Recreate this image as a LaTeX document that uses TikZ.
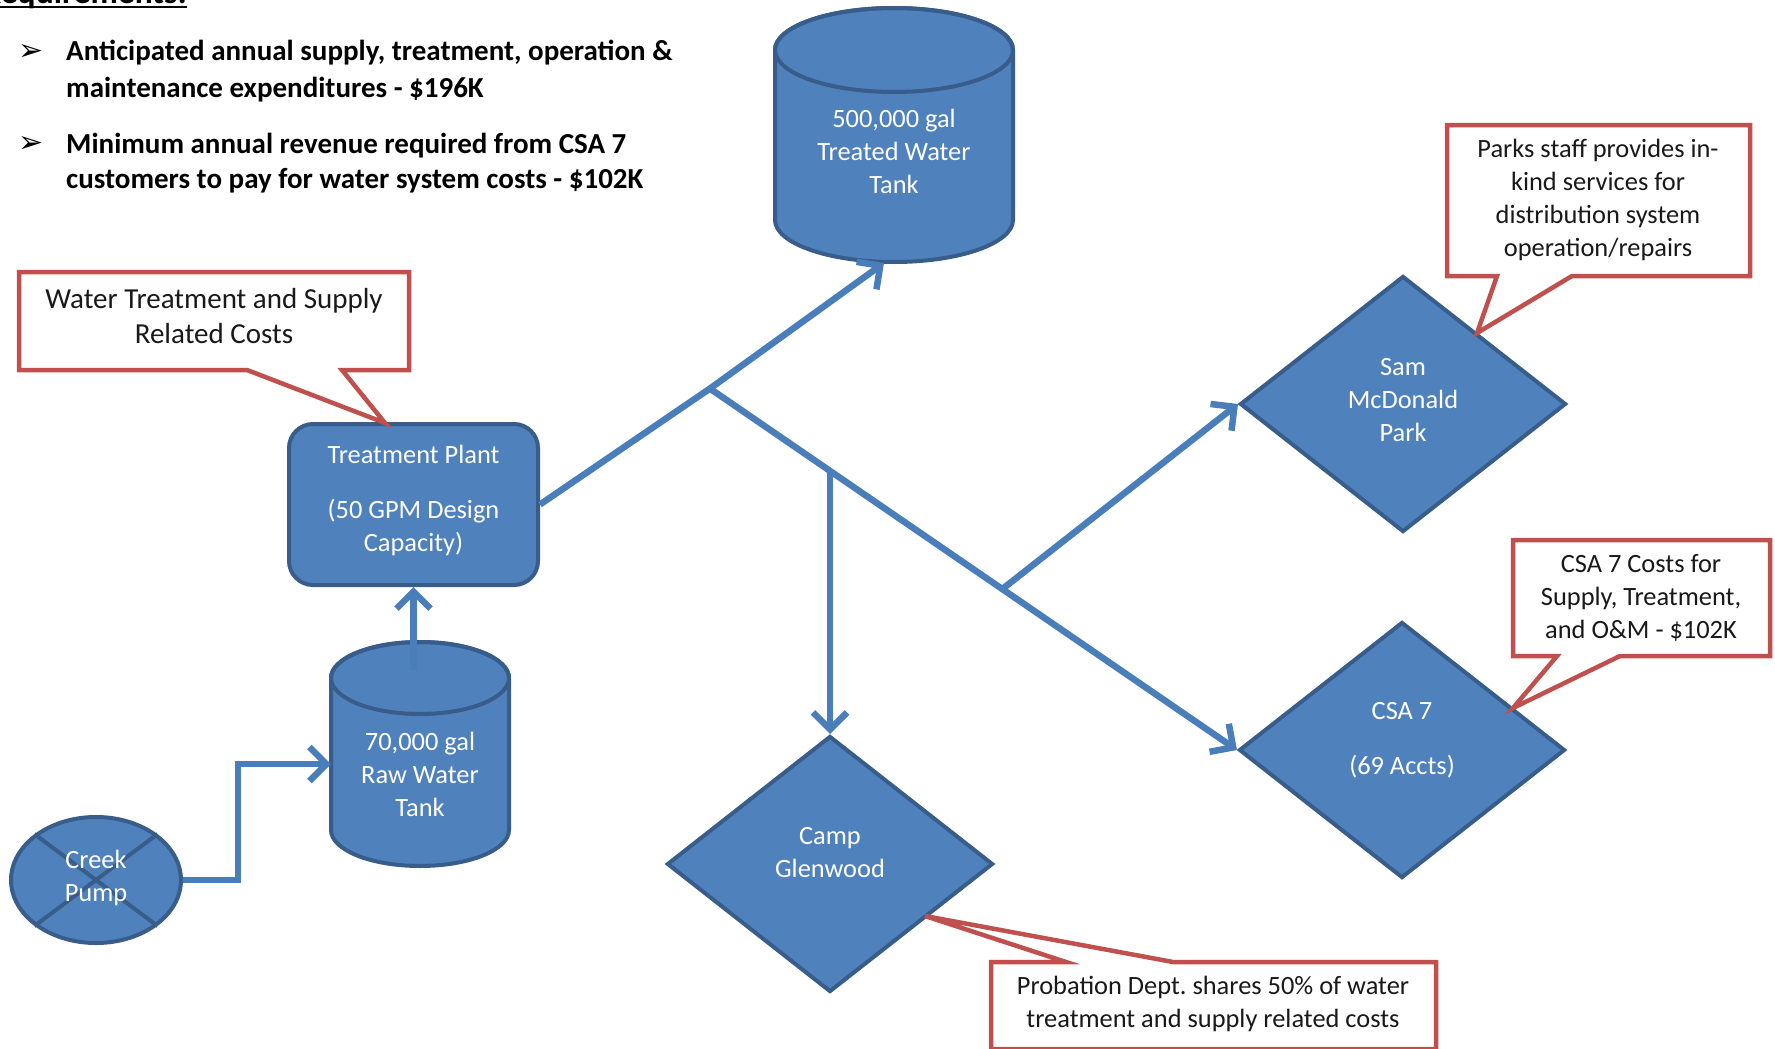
\documentclass[tikz,border=0pt]{standalone}
\usepackage{fontspec}
\setmainfont{Carlito}
\newfontfamily\dejavu{DejaVu Sans}
\usetikzlibrary{shapes.geometric,arrows.meta,calc}
\definecolor{bfill}{HTML}{4F81BD}
\definecolor{bline}{HTML}{385D8A}
\definecolor{cline}{HTML}{4A7EBB}
\definecolor{rline}{HTML}{C0504D}
\begin{document}
\begin{tikzpicture}[x=1pt,y=-1pt,
  shapeline/.style={draw=bline, fill=bfill, line width=4pt},
  conn/.style={draw=cline, line width=6.5pt},
  arr/.style={conn, -{Straight Barb[length=17pt,width=34pt]}},
  wtext/.style={text=white, align=center, inner sep=0pt, font=\fontsize{26.4}{33}\selectfont},
  ctext/.style={text=black!90, align=center, inner sep=0pt, font=\fontsize{26.4}{33}\selectfont},
  callout/.style={draw=rline, fill=white, line width=4.5pt, line join=miter},
  diam/.style={diamond, shapeline, minimum width=326pt, minimum height=256pt, inner sep=0pt},
  ghost/.style={inner sep=0pt, outer sep=0pt},
  btext/.style={anchor=base west, inner sep=0pt, font=\fontsize{29}{36}\selectfont\bfseries},
  bullet/.style={inner sep=0pt, font=\dejavu\fontsize{30}{32}\selectfont},
]
\useasboundingbox (0,0) rectangle (1775,1049);

% ---- heading and bullets
\node[anchor=base east, inner sep=0pt, font=\fontsize{33.6}{40}\selectfont\bfseries] (title) at (187,4) {Requirements:};
\draw[line width=2.2pt] ($(title.base west)+(0,2.8)$) -- ($(title.base east)+(0,2.8)$);
\node[bullet] (b1) at (31,53) {➢};
\node[bullet] (b2) at (31,145) {➢};
\node[btext] (l1) at (66,61) {Anticipated annual supply, treatment, operation \&};
\node[btext] (l2) at (66,97) {maintenance expenditures - \$196K};
\node[btext] (l3) at (66,153) {Minimum annual revenue required from CSA 7};
\node[btext] (l4) at (66,188) {customers to pay for water system costs - \$102K};

% ---- treated water tank (cylinder)
\path[shapeline] (775,50) -- (775,220) arc[start angle=180,end angle=0,x radius=119,y radius=42]
  -- (1013,50) arc[start angle=0,end angle=-180,x radius=119,y radius=42] -- cycle;
\draw[draw=bline, line width=4pt] (894,50) ellipse[x radius=119,y radius=42];
\node[ghost, minimum width=238pt, minimum height=256pt] (ttank) at (894,135) {};
\node[wtext] (ttanktext) at (894,151) {500,000 gal\\Treated Water\\Tank};

% ---- raw water tank (cylinder)
\path[shapeline] (331,678) -- (331,830) arc[start angle=180,end angle=0,x radius=89,y radius=36]
  -- (509,678) arc[start angle=0,end angle=-180,x radius=89,y radius=36] -- cycle;
\draw[draw=bline, line width=4pt] (420,678) ellipse[x radius=89,y radius=36];
\node[ghost, minimum width=178pt, minimum height=224pt] (rawtank) at (420,754) {};
\node[wtext] (rawtext) at (420,774) {70,000 gal\\Raw Water\\Tank};

% ---- creek pump
\node[ellipse, shapeline, minimum width=170pt, minimum height=126pt, inner sep=0pt] (pump) at (96,880) {};
\draw[draw=bline, line width=4pt] (pump.north west) -- (pump.south east);
\draw[draw=bline, line width=4pt] (pump.north east) -- (pump.south west);
\node[wtext] (pumptext) at (96,878) {Creek\\Pump};

% ---- treatment plant
\node[rectangle, rounded corners=24pt, shapeline, minimum width=249pt, minimum height=161pt] (plant) at (413.5,504.5) {};
\node[wtext] (planttext) at (413.5,500) {Treatment Plant\\[22pt](50 GPM Design\\Capacity)};

% ---- diamonds
\node[diam] (sam) at (1403,404) {};
\node[wtext] (samtext) at (1403,400) {Sam\\McDonald\\Park};
\node[diam] (csa) at (1402,750) {};
\node[wtext] (csatext) at (1402,740) {CSA 7\\[22pt](69 Accts)};
\node[diam] (camp) at (830,864) {};
\node[wtext] (camptext) at (830,853) {Camp\\Glenwood};

% ---- connectors
\draw[arr] (pump.east) -- ++(55,0) |- ($(rawtank.west)+(0,10)$);
\coordinate (rawtop) at ($(rawtank.north)+(0,28)$);
\draw[arr] (plant.south |- rawtop) -- (plant.south);
\coordinate (j1) at ($(plant.east)!0.48!(ttank.south)$);
\draw[arr] (plant.east) -- (j1) -- ($(ttank.south)+(-10,0)$);
\draw[arr] (j1) -- (csa.west);
\coordinate (j2) at ($(j1)!0.2302!(csa.west)$);
\coordinate (j3) at ($(j1)!0.5547!(csa.west)$);
\draw[arr] (camp.north |- j2) -- (camp.north);
\draw[arr] (j3) -- (sam.west);

% ---- callouts
\path[callout] (19,272) -- (409,272) -- (409,370) -- (342,370) -- (385,423) -- (247,370) -- (19,370) -- cycle;
\node[ctext, font=\fontsize{29}{35}\selectfont] (c1) at (214,316) {Water Treatment and Supply\\Related Costs};

\path[callout] (1447,125) -- (1750,125) -- (1750,276) -- (1572,276) -- (1477,333) -- (1497,276) -- (1447,276) -- cycle;
\node[ctext] (c2) at (1598,200) {Parks staff provides in-\\kind services for\\distribution system\\operation/repairs};

\path[callout] (1513,540) -- (1770,540) -- (1770,656) -- (1620,656) -- (1513,708) -- (1557,656) -- (1513,656) -- cycle;
\node[ctext] (c3) at (1641,598) {CSA 7 Costs for\\Supply, Treatment,\\and O\&M - \$102K};

\path[callout] (991,962) -- (1066,962) -- (925,916) -- (1173,962) -- (1436,962) -- (1436,1049) -- (991,1049) -- cycle;
\node[ctext] (c4) at (1213,1004) {Probation Dept.\ shares 50\% of water\\treatment and supply related costs};
\end{tikzpicture}
\end{document}
